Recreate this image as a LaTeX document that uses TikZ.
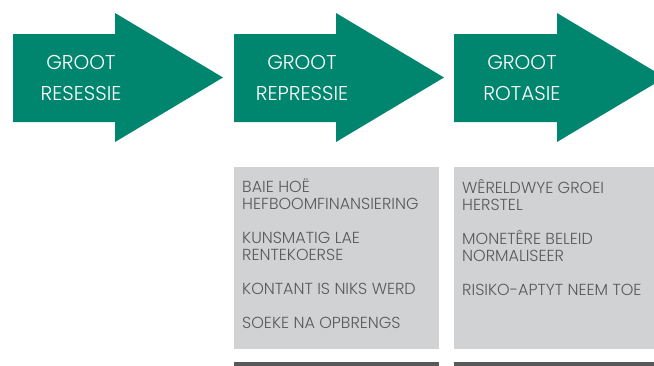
\documentclass[tikz,border=0pt]{standalone}
\usepackage{fontspec}
\IfFontExistsTF{Poppins Light}{\setmainfont{Poppins Light}}{\setmainfont{Poppins}}
\usepackage{tikz}
\usetikzlibrary{positioning}
\definecolor{phasegreen}{RGB}{0,134,111}
\definecolor{panelgray}{RGB}{209,210,212}
\definecolor{inkgray}{RGB}{88,89,91}

\begin{document}
\begin{tikzpicture}[
    x=1pt, y=-1pt,
    phase/.style={
        fill=phasegreen,
        draw=none
    },
    phaselabel/.style={
        text=white,
        align=center,
        inner sep=0pt,
        font=\fontsize{20}{31}\selectfont
    },
    panel/.style={
        rectangle,
        fill=panelgray,
        anchor=north west,
        minimum height=182,
        inner sep=0pt
    },
    items/.style={
        text=inkgray,
        align=left,
        anchor=north west,
        inner sep=0pt,
        font=\fontsize{16}{17}\selectfont
    },
    rule/.style={
        rectangle,
        fill=inkgray,
        anchor=north west,
        minimum height=8,
        inner sep=0pt
    }
]

\useasboundingbox (0,0) rectangle (654,365);

% === ARROWS ===

% Resessie
\fill[phase] (13,34) -- (115,34) -- (115,13) -- (223,77.5)
    -- (115,142) -- (115,122) -- (13,122) -- cycle;
\node[phaselabel] (resessie) at (81,78) {GROOT\\RESESSIE};

% Repressie
\fill[phase] (234,34) -- (336,34) -- (336,13) -- (444,77.5)
    -- (336,142) -- (336,122) -- (234,122) -- cycle;
\node[phaselabel] (repressie) at (302,78) {GROOT\\REPRESSIE};

% Rotasie (runs off the right edge)
\fill[phase] (454,34) -- (557,34) -- (557,13) -- (665,77.5)
    -- (557,142) -- (557,122) -- (454,122) -- cycle;
\node[phaselabel] (rotasie) at (522,78) {GROOT\\ROTASIE};

% === PANELS ===

\node[panel, minimum width=205] (panelrep) at (234,167) {};
\node[panel, minimum width=210] (panelrot) at (454,167) {};

\node[items] (listrep) at (242,179) {\strut BAIE HOË\\HEFBOOMFINANSIERING\\[17pt]
    KUNSMATIG LAE\\RENTEKOERSE\\[17pt]
    KONTANT IS NIKS WERD\\[17pt]
    SOEKE NA OPBRENGS};
\node[items] (listrot) at (462,179) {\strut WÊRELDWYE GROEI\\HERSTEL\\[17pt]
    MONETÊRE BELEID\\NORMALISEER\\[17pt]
    RISIKO-APTYT NEEM TOE};

% bottom rules
\node[rule, minimum width=205] (rulerep) at (234,362) {};
\node[rule, minimum width=210] (rulerot) at (454,362) {};

\end{tikzpicture}
\end{document}
